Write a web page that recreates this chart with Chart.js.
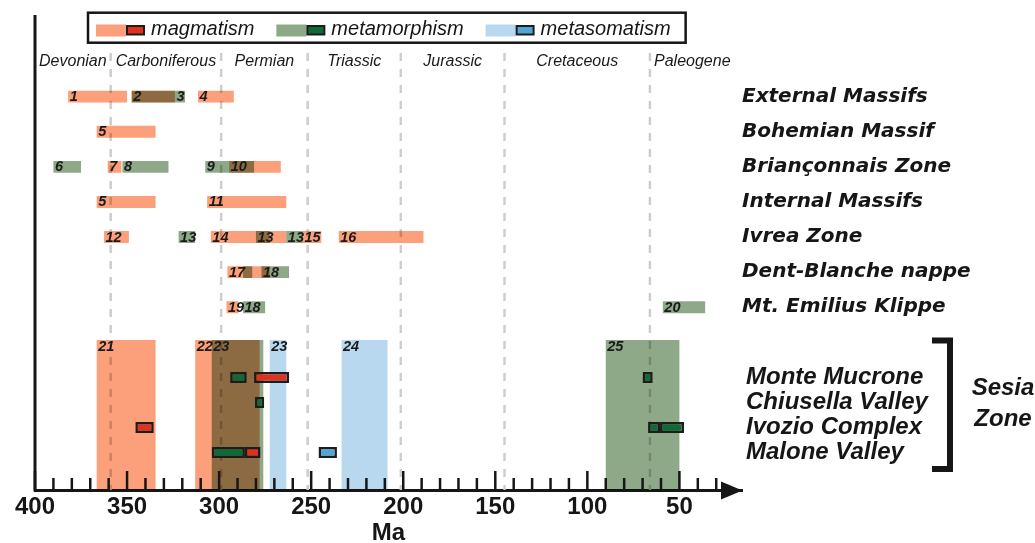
<!DOCTYPE html>
<html>
<head>
<meta charset="utf-8">
<script src="https://cdn.jsdelivr.net/npm/chart.js@4.4.1/dist/chart.umd.min.js"></script>
<style>
  html, body { margin: 0; padding: 0; background: #fff; }
  #wrap { width: 1035px; height: 543px; }
</style>
</head>
<body>
<div id="wrap"><canvas id="timeline"></canvas></div>
<script>
var topRows = ['External Massifs', 'Bohemian Massif', 'Briançonnais Zone', 'Internal Massifs', 'Ivrea Zone', 'Dent-Blanche nappe', 'Mt. Emilius Klippe'];
var sesiaRows = ['Monte Mucrone', 'Chiusella Valley', 'Ivozio Complex', 'Malone Valley'];
var periods = ['Devonian', 'Carboniferous', 'Permian', 'Triassic', 'Jurassic', 'Cretaceous', 'Paleogene'];
var periodBounds = [400, 358.9, 298.9, 251.9, 201.3, 145, 66, 20];

// [row, older Ma, younger Ma, ref number, number shown at Ma]
var magmatism = [
  ['External Massifs', 382, 350, '1'],
  ['External Massifs', 347.5, 324, '2'],
  ['External Massifs', 311.5, 292, '4'],
  ['Bohemian Massif', 366.5, 334.5, '5'],
  ['Briançonnais Zone', 360.5, 353, '7'],
  ['Briançonnais Zone', 294.5, 266.5, '10'],
  ['Internal Massifs', 366.5, 334.5, '5'],
  ['Internal Massifs', 306.5, 263.5, '11'],
  ['Ivrea Zone', 362.5, 349, '12'],
  ['Ivrea Zone', 304.5, 263.5, '14'],
  ['Ivrea Zone', 254.5, 244.5, '15'],
  ['Ivrea Zone', 235, 189, '16'],
  ['Dent-Blanche nappe', 295.5, 272.5, '17'],
  ['Mt. Emilius Klippe', 296, 289.5, '19']
];
var metamorphism = [
  ['External Massifs', 347.5, 318.5, '3', 324],
  ['Briançonnais Zone', 390, 375, '6'],
  ['Briançonnais Zone', 352.5, 327.5, '8'],
  ['Briançonnais Zone', 307.5, 281, '9'],
  ['Ivrea Zone', 322, 313, '13'],
  ['Ivrea Zone', 280, 272.5, '13'],
  ['Ivrea Zone', 263.5, 254.5, '13'],
  ['Dent-Blanche nappe', 287, 282, ''],
  ['Dent-Blanche nappe', 277, 262, '18'],
  ['Mt. Emilius Klippe', 287, 275, '18'],
  ['Mt. Emilius Klippe', 59, 36, '20']
];

// Sesia Zone ranges (whole block): [older Ma, younger Ma, ref number]
var sesiaMagmatism = [[366.5, 334.5, '21'], [313, 278, '22']];
var sesiaMetamorphism = [[304, 276, '23'], [90, 50, '25']];
var sesiaMetasomatism = [[272.5, 263.5, '23'], [233.5, 208.5, '24']];

// dated samples: [locality, older Ma, younger Ma]
var magmatismAges = [['Monte Mucrone', 281, 262], ['Ivozio Complex', 345.5, 335.5], ['Malone Valley', 286, 277.5]];
var metamorphismAges = [['Monte Mucrone', 294, 285], ['Monte Mucrone', 70, 64.5], ['Chiusella Valley', 280.5, 275.5],
  ['Ivozio Complex', 67, 60.5], ['Ivozio Complex', 60.5, 47.5], ['Malone Valley', 304, 286]];
var metasomatismAges = [['Malone Valley', 246, 236]];

var ORANGE = '#fca07c', GREEN = '#8ea987', BLUE = '#b8d8f0';
var RED = '#e0301e', DKGREEN = '#0f6b35', DKBLUE = '#4ea6d8';
var INK = '#161616';

function ranges(list) {
  return list.map(function (r) { return { x: [r[1], r[2]], y: r[0], n: r[3], at: r[4] }; });
}
function bands(list) {
  return list.map(function (r) { return { x: [r[0], r[1]], y: 'Sesia Zone', n: r[2] }; });
}
function ages(list) {
  return list.map(function (r) { return { x: [r[1], r[2]], y: r[0] }; });
}

function rangeSet(label, list, color) {
  return { label: label, data: ranges(list), yAxisID: 'yTop', backgroundColor: color,
    barPercentage: 0.34, categoryPercentage: 1, blend: true, numbered: true, order: 2 };
}
function bandSet(label, list, color) {
  return { label: label, data: bands(list), yAxisID: 'yBand', backgroundColor: color,
    barPercentage: 1, categoryPercentage: 1, inflateAmount: 0, blend: true, numbered: true, order: 3 };
}
function ageSet(label, list, color) {
  return { label: label, data: ages(list), yAxisID: 'ySesia', backgroundColor: color,
    borderColor: '#1c1c1c', borderWidth: 2.5, borderSkipped: false,
    barPercentage: 0.44, categoryPercentage: 1, order: 0 };
}

var legendItems = [['magmatism', ORANGE, RED], ['metamorphism', GREEN, DKGREEN], ['metasomatism', BLUE, DKBLUE]];

var decor = {
  id: 'decor',
  beforeDatasetsDraw: function (chart) {
    var ctx = chart.ctx, xs = chart.scales.x, area = chart.chartArea;
    var yRow = chart.scales.yTop.getPixelForValue(0);
    ctx.save();
    ctx.strokeStyle = '#cdcdcd';
    ctx.lineWidth = 2.5;
    ctx.setLineDash([8, 8]);
    for (var i = 1; i < periodBounds.length - 1; i++) {
      var px = xs.getPixelForValue(periodBounds[i]);
      ctx.beginPath();
      ctx.moveTo(px, area.top + 9);
      ctx.lineTo(px, area.bottom);
      ctx.stroke();
    }
    ctx.setLineDash([]);
    ctx.fillStyle = '#1a1a1a';
    ctx.font = 'italic 16px "Liberation Sans"';
    ctx.textAlign = 'center';
    ctx.textBaseline = 'middle';
    periods.forEach(function (p, i) {
      ctx.fillText(p, xs.getPixelForValue((periodBounds[i] + periodBounds[i + 1]) / 2), yRow);
    });
    ctx.restore();
  },
  beforeDatasetDraw: function (chart, args) {
    if (chart.data.datasets[args.index].blend) {
      chart.ctx.save();
      chart.ctx.globalCompositeOperation = 'multiply';
    }
  },
  afterDatasetDraw: function (chart, args) {
    if (chart.data.datasets[args.index].blend) chart.ctx.restore();
  },
  afterDatasetsDraw: function (chart) {
    var ctx = chart.ctx, xs = chart.scales.x, area = chart.chartArea;
    ctx.save();

    // reference numbers on the bars
    ctx.fillStyle = '#1a1a1a';
    ctx.font = 'italic bold 14.5px "Liberation Sans"';
    ctx.textAlign = 'left';
    ctx.textBaseline = 'middle';
    chart.data.datasets.forEach(function (ds, i) {
      if (!ds.numbered) return;
      chart.getDatasetMeta(i).data.forEach(function (bar, j) {
        var d = ds.data[j];
        if (!d.n) return;
        var left = d.at !== undefined ? xs.getPixelForValue(d.at) : Math.min(bar.x, bar.base);
        var y = ds.yAxisID === 'yBand' ? bar.y - bar.height / 2 + 7 : bar.y + 0.5;
        ctx.fillText(d.n, left + 1.5, y);
      });
    });

    // axis ticks pointing up, and arrow
    ctx.strokeStyle = INK;
    ctx.fillStyle = INK;
    ctx.lineWidth = 2.5;
    xs.ticks.forEach(function (t) {
      if (t.value % 10 !== 0 || t.value < 30) return;
      var px = xs.getPixelForValue(t.value);
      ctx.beginPath();
      ctx.moveTo(px, area.bottom);
      ctx.lineTo(px, area.bottom - (t.value % 50 === 0 ? 19 : 12));
      ctx.stroke();
    });
    ctx.beginPath();
    ctx.moveTo(area.right - 21, area.bottom - 8.5);
    ctx.lineTo(area.right + 0.5, area.bottom + 0.5);
    ctx.lineTo(area.right - 21, area.bottom + 9.5);
    ctx.closePath();
    ctx.fill();

    // left frame line
    ctx.lineWidth = 3;
    ctx.beginPath();
    ctx.moveTo(area.left, area.top - 29);
    ctx.lineTo(area.left, area.bottom + 1.5);
    ctx.stroke();

    // legend
    ctx.font = 'italic 20px "Liberation Sans"';
    ctx.textBaseline = 'alphabetic';
    var lx = 96, ly = area.top - 14;
    legendItems.forEach(function (it) {
      ctx.fillStyle = it[1];
      ctx.fillRect(lx, ly - 5.5, 30, 12);
      ctx.fillStyle = '#1c1c1c';
      ctx.fillRect(lx + 30, ly - 5, 19, 10.5);
      ctx.fillStyle = it[2];
      ctx.fillRect(lx + 32, ly - 3, 15, 6.5);
      ctx.fillStyle = INK;
      ctx.fillText(it[0], lx + 55, ly + 4.5);
      lx += 55 + ctx.measureText(it[0]).width + 22;
    });
    ctx.lineWidth = 2.5;
    ctx.strokeRect(88, area.top - 31.3, lx - 22 + 15 - 88, 30);

    // Sesia Zone bracket
    var sy = chart.scales.ySesia;
    var bt = sy.top + 0.5, bb = sy.bottom - 21;
    ctx.lineWidth = 6;
    ctx.lineJoin = 'miter';
    ctx.beginPath();
    ctx.moveTo(area.right + 190, bt);
    ctx.lineTo(area.right + 208, bt);
    ctx.lineTo(area.right + 208, bb);
    ctx.lineTo(area.right + 190, bb);
    ctx.stroke();
    ctx.font = 'italic bold 24px "Liberation Sans"';
    ctx.textAlign = 'center';
    ctx.textBaseline = 'middle';
    var mid = (bt + bb) / 2;
    ctx.fillText('Sesia', area.right + 261, mid - 16);
    ctx.fillText('Zone', area.right + 261, mid + 15);
    ctx.restore();
  }
};

Chart.defaults.font.family = '"Liberation Sans", Arial, sans-serif';
Chart.defaults.color = INK;

new Chart(document.getElementById('timeline'), {
  type: 'bar',
  data: {
    datasets: [
      ageSet('magmatism', magmatismAges, RED),
      ageSet('metamorphism', metamorphismAges, DKGREEN),
      ageSet('metasomatism', metasomatismAges, DKBLUE),
      rangeSet('magmatism', magmatism, ORANGE),
      rangeSet('metamorphism', metamorphism, GREEN),
      bandSet('magmatism', sesiaMagmatism, ORANGE),
      bandSet('metamorphism', sesiaMetamorphism, GREEN),
      bandSet('metasomatism', sesiaMetasomatism, BLUE)
    ]
  },
  options: {
    indexAxis: 'y',
    responsive: true,
    maintainAspectRatio: false,
    animation: false,
    layout: { padding: { top: 44, left: 35, right: 0, bottom: 0 } },
    datasets: { bar: { grouped: false } },
    plugins: { legend: { display: false }, tooltip: { enabled: false } },
    scales: {
      x: {
        type: 'linear', reverse: true, min: 16, max: 400, beginAtZero: false,
        grid: { display: false, drawTicks: false },
        border: { display: true, color: INK, width: 3 },
        ticks: {
          stepSize: 10, autoSkip: false, maxRotation: 0, padding: 3, color: INK,
          font: { size: 24, weight: 'bold' },
          callback: function (v) { return v % 50 === 0 ? v : ''; }
        },
        title: { display: true, text: 'Ma', color: INK, font: { size: 24, weight: 'bold' }, padding: { top: 0, bottom: -5 } },
        afterFit: function (s) { s.height = 53; }
      },
      yTop: {
        type: 'category', labels: [''].concat(topRows), position: 'right', stack: 'rows', stackWeight: 280.8,
        offset: true, grid: { display: false, drawTicks: false }, border: { display: false },
        ticks: { autoSkip: false, padding: 0, color: INK, font: { family: 'DejaVu Sans', size: 20, weight: 'bold', style: 'italic' } },
        afterFit: function (s) { s.width = 293; }
      },
      yGap: {
        type: 'category', labels: [''], position: 'right', stack: 'rows', stackWeight: 15.2, display: false
      },
      ySesia: {
        type: 'category', labels: [''].concat(sesiaRows, ['']), position: 'right', stack: 'rows', stackWeight: 150,
        offset: true, grid: { display: false, drawTicks: false }, border: { display: false },
        ticks: { autoSkip: false, padding: 4, color: INK, font: { size: 24, weight: 'bold', style: 'italic' } },
        afterFit: function (s) { s.width = 293; }
      },
      yGapB: {
        type: 'category', labels: [''], position: 'right', stack: 'bands', stackWeight: 296, display: false
      },
      yBand: {
        type: 'category', labels: ['Sesia Zone'], position: 'right', stack: 'bands', stackWeight: 150, display: false
      }
    }
  },
  plugins: [decor]
});
</script>
</body>
</html>
